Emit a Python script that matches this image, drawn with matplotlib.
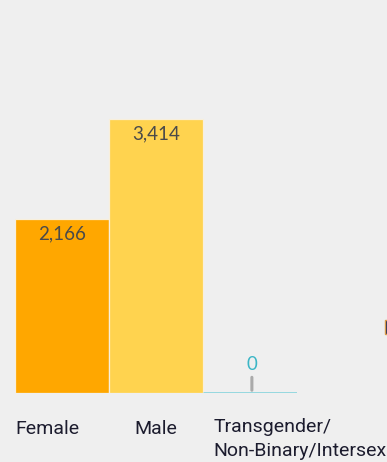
import matplotlib
matplotlib.use("Agg")
import matplotlib.pyplot as plt
from matplotlib.patches import Rectangle

categories = ["Female", "Male", "Transgender/\nNon-Binary/Intersex"]
values = [2166, 3414, 0]
value_labels = ["2,166", "3,414", "0"]
colors = ["#ffa700", "#ffd34f", "#8dd6de"]

BG = "#efefef"
fig = plt.figure(figsize=(3.87, 4.62), dpi=100, facecolor=BG)
ax = fig.add_axes([15/387, 69/462, 282/387, 321/462])
ax.set_facecolor(BG)

x = list(range(len(categories)))
bars = ax.bar(x[:2], values[:2], width=1.0, color=colors[:2],
              edgecolor="#f8efdc", linewidth=0.9)
# zero-valued category drawn as a baseline segment
ax.hlines(values[2], x[2] - 0.5, x[2] + 0.5, color=colors[2], linewidth=2)

ax.set_xlim(-0.5, 2.5)
ax.set_ylim(0, 4000)
for s in ax.spines.values():
    s.set_visible(False)
ax.set_xticks([])
ax.set_yticks([])

# value labels
for i in range(2):
    ax.annotate(value_labels[i], (x[i], values[i]), xytext=(0, -15),
                textcoords="offset pixels", ha="center", va="center",
                fontsize=13.5, family="Lato", color="#4a4a4a")
# zero label with stem
ax.annotate("", (x[2] + 0.02, values[2]), xytext=(x[2] + 0.02, 230),
            arrowprops=dict(arrowstyle="-", color="#aaaaaa", lw=2.2))
ax.annotate(value_labels[2], (x[2] + 0.02, values[2]), xytext=(0, 28),
            textcoords="offset pixels", ha="center", va="center",
            fontsize=13.5, family="Lato", color="#3bb6c6")

# category labels
lab_kw = dict(fontsize=14, family="Roboto", color="#1c1c2e",
              transform=ax.get_xaxis_transform(), va="top", clip_on=False,
              linespacing=1.4)
ax.text(-0.5, -0.083, categories[0], ha="left", **lab_kw)
ax.text(1.0, -0.083, categories[1], ha="center", **lab_kw)
ax.text(1.61, -0.078, categories[2], ha="left", **lab_kw)

# clipped element at the right edge
fig.patches.append(Rectangle((384.5/387, (462-334)/462), 10/387, 14/462,
                             transform=fig.transFigure, facecolor="#1d2a5c",
                             edgecolor="#d99a4a", linewidth=1))

fig.savefig("out.png", dpi=100, facecolor=BG)
